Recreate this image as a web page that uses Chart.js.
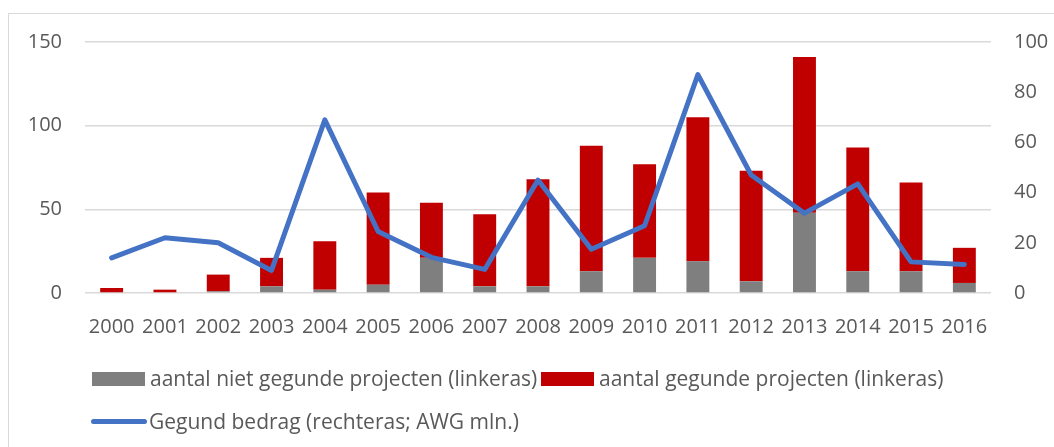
<!DOCTYPE html>
<html>
<head>
<meta charset="utf-8">
<script src="https://cdn.jsdelivr.net/npm/chart.js@4.4.0/dist/chart.umd.min.js"></script>
<style>
    html, body { margin: 0; padding: 0; background: #fff; }
    #wrap { position: relative; width: 1054px; height: 447px; overflow: hidden; }
    #frame { position: absolute; left: 8px; top: 13px; width: 1060px; height: 460px; border: 1px solid #d9d9d9; box-sizing: border-box; }
    #grafiek { position: absolute; left: 0; top: 0; }
    .leg { position: absolute; font-family: "Open Sans", sans-serif; font-size: 21px; color: #595959; white-space: nowrap; line-height: 26px; }
    .leg .box { position: absolute; left: 0; }
</style>
</head>
<body>
<div id="wrap">
    <div id="frame"></div>
    <canvas id="grafiek" width="1054" height="447"></canvas>
    <div id="legenda"></div>
</div>
<script>
// data
var jaren = ['2000', '2001', '2002', '2003', '2004', '2005', '2006', '2007', '2008',
    '2009', '2010', '2011', '2012', '2013', '2014', '2015', '2016'];
var nietGegund = [0, 0, 1, 4, 2, 5, 21, 4, 4, 13, 21, 19, 7, 48, 13, 13, 6];
var gegund = [3, 2, 10, 17, 29, 55, 33, 43, 64, 75, 56, 86, 66, 93, 74, 53, 21];
var bedrag = [14, 22, 20, 9, 69, 24.5, 14.2, 9.4, 45, 17.4, 26.8, 87, 47, 31.8, 43.5, 12.4, 11.4];
var linksTicks = [0, 50, 100, 150];
var rechtsTicks = [0, 20, 40, 60, 80, 100];

var tekst = '#595959';
var lijnen = '#d9d9d9';
var lettertype = { family: 'Open Sans', size: 20 };

var ctx = document.getElementById('grafiek').getContext('2d');
var grafiek = new Chart(ctx, {
    type: 'bar',
    data: {
        labels: jaren,
        datasets: [{
            type: 'line',
            label: 'Gegund bedrag (rechteras; AWG mln.)',
            data: bedrag,
            yAxisID: 'y1',
            borderColor: '#4472c4',
            backgroundColor: '#4472c4',
            borderWidth: 5,
            borderCapStyle: 'round',
            borderJoinStyle: 'round',
            pointRadius: 0,
            tension: 0,
            order: 0
        }, {
            label: 'aantal niet gegunde projecten (linkeras)',
            data: nietGegund,
            yAxisID: 'y',
            backgroundColor: '#7f7f7f',
            categoryPercentage: 1,
            barPercentage: 0.43,
            order: 1
        }, {
            label: 'aantal gegunde projecten (linkeras)',
            data: gegund,
            yAxisID: 'y',
            backgroundColor: '#c00000',
            categoryPercentage: 1,
            barPercentage: 0.43,
            order: 1
        }]
    },
    options: {
        responsive: false,
        animation: false,
        layout: { padding: { left: 0, right: 0, top: 42, bottom: 114 } },
        plugins: {
            legend: { display: false },
            tooltip: { enabled: false }
        },
        scales: {
            x: {
                stacked: true,
                grid: { display: false },
                border: { display: false },
                afterFit: function (s) { s.height = 40; },
                ticks: { color: tekst, font: lettertype, padding: 14, maxRotation: 0, autoSkip: false }
            },
            y: {
                stacked: true,
                position: 'left',
                min: 0,
                max: 150,
                afterBuildTicks: function (as) { as.ticks = linksTicks.map(function (v) { return { value: v }; }); },
                afterFit: function (s) { s.width = 85; },
                grid: { color: lijnen, lineWidth: 1.5, drawTicks: false },
                border: { display: false },
                ticks: { color: tekst, font: lettertype, padding: 23 }
            },
            y1: {
                position: 'right',
                min: 0,
                max: 100,
                afterBuildTicks: function (as) { as.ticks = rechtsTicks.map(function (v) { return { value: v }; }); },
                afterFit: function (s) { s.width = 63; },
                grid: { display: false, drawTicks: false },
                border: { display: false },
                ticks: { color: tekst, font: lettertype, padding: 23 }
            }
        }
    }
});

// legenda, uit de datasets opgebouwd
var legenda = document.getElementById('legenda');
var ds = grafiek.data.datasets;
var posities = [
    { ds: 1, left: 92, top: 365 },
    { ds: 2, left: 541, top: 365 },
    { ds: 0, left: 91, top: 408 }
];
posities.forEach(function (p) {
    var d = ds[p.ds];
    var item = document.createElement('div');
    item.className = 'leg';
    item.style.left = p.left + 'px';
    item.style.top = p.top + 'px';
    item.style.paddingLeft = '58px';
    var box = document.createElement('span');
    box.className = 'box';
    if (d.type === 'line') {
        box.style.width = '56px';
        box.style.height = '5px';
        box.style.top = '11px';
        box.style.borderRadius = '3px';
        box.style.background = d.borderColor;
    } else {
        box.style.width = '53px';
        box.style.height = '14px';
        box.style.top = '7px';
        box.style.background = d.backgroundColor;
    }
    item.appendChild(box);
    item.appendChild(document.createTextNode(d.label));
    legenda.appendChild(item);
});
</script>
</body>
</html>
